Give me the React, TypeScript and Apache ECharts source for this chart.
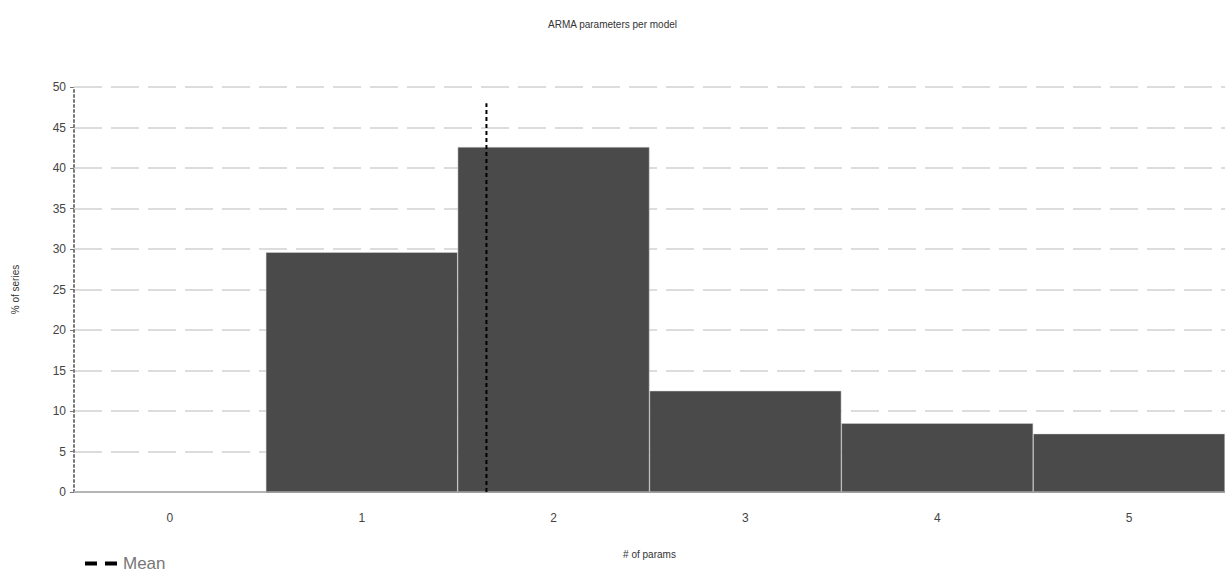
import React, { useEffect, useRef } from "react";
import * as echarts from "echarts";

const categories = ["0", "1", "2", "3", "4", "5"];
const percentSeries = [0, 29.6, 42.6, 12.5, 8.5, 7.2];
const meanParams = 1.65;
const meanLineTop = 48;

export default function App() {
  const ref = useRef<HTMLDivElement>(null);
  useEffect(() => {
    document.body.style.margin = "0";
    const chart = echarts.init(ref.current!, null, { renderer: "svg" });
    const font = "Liberation Sans, Arial, sans-serif";
    chart.setOption({
      animation: false,
      backgroundColor: "#ffffff",
      title: {
        text: "ARMA parameters per model",
        left: "center",
        top: 14,
        textStyle: { fontSize: 10, fontWeight: "normal", color: "#333", fontFamily: font },
      },
      legend: {
        left: 80,
        bottom: 3,
        itemWidth: 34,
        itemHeight: 4,
        itemGap: 4,
        data: [{ name: "Mean", icon: "path://M0,0H12V4H0Z M20,0H32V4H20Z" }],
        itemStyle: { color: "#000" },
        textStyle: { fontSize: 17, color: "#777", fontFamily: font },
      },
      grid: { left: 74, right: 0, top: 87, bottom: 88, containLabel: false },
      xAxis: [
        {
          type: "category",
          data: categories,
          name: "# of params",
          nameLocation: "middle",
          nameGap: 57,
          nameTextStyle: { fontSize: 10, color: "#333", fontFamily: font },
          axisLine: { show: true, lineStyle: { color: "#999", width: 2 } },
          axisTick: { show: false },
          axisLabel: { fontSize: 12, color: "#444", margin: 20, fontFamily: font },
          splitLine: { show: false },
        },
        {
          type: "value",
          min: -0.5,
          max: 5.5,
          show: false,
        },
      ],
      yAxis: {
        type: "value",
        min: 0,
        max: 50,
        interval: 5,
        name: "% of series",
        nameLocation: "middle",
        nameGap: 54,
        nameTextStyle: { fontSize: 10, color: "#333", fontFamily: font },
        axisLine: { show: true, onZero: false, lineStyle: { color: "#777", type: [2, 3], width: 2 } },
        axisTick: { show: true, length: 4, lineStyle: { color: "#777" } },
        axisLabel: { fontSize: 12, color: "#444", margin: 8, fontFamily: font },
        splitLine: { show: true, lineStyle: { color: "#dcdcdc", width: 2, type: [28, 9] } },
      },
      series: [
        {
          name: "% of series",
          type: "bar",
          data: percentSeries,
          barCategoryGap: "0%",
          itemStyle: { color: "#4a4a4a", borderColor: "#d8d8d8", borderWidth: 0.5 },
          z: 2,
        },
        {
          name: "Mean",
          type: "line",
          xAxisIndex: 1,
          data: [
            [meanParams, 0],
            [meanParams, meanLineTop],
          ],
          symbol: "none",
          lineStyle: { color: "#000", width: 2, type: [4, 3] },
          itemStyle: { color: "#000" },
          z: 5,
        },
      ],
    });
    return () => chart.dispose();
  }, []);
  return <div ref={ref} style={{ width: 1225, height: 580 }} />;
}
